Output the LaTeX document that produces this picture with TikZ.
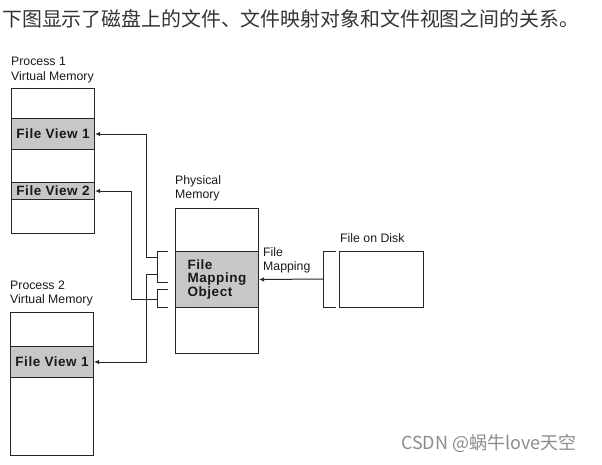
\documentclass[tikz,border=0pt]{standalone}
\usepackage{fontspec}
\setmainfont{Liberation Sans}
\newfontfamily\cjk{Noto Sans CJK SC}
\newfontfamily\bandfont[LetterSpace=4]{Liberation Sans Bold}
\usetikzlibrary{arrows.meta}
\tikzset{
  lbl/.style={inner sep=0pt, anchor=west, font=\fontsize{12.3}{14.5}\selectfont, align=left, text=black!90},
  membox/.style={draw=black!85, line width=1pt, fill=white, anchor=north west, inner sep=0pt},
  band/.style={draw=black!85, line width=1pt, fill=black!22, anchor=north west, inner sep=0pt, font=\bandfont\fontsize{13.5}{14}\selectfont, text=black!90},
  wire/.style={draw=black!85, line width=1pt},
  arr/.style={wire, -{Latex[length=5pt,width=4.5pt]}}
}
\begin{document}
\begin{tikzpicture}[x=1pt,y=-1pt]
\useasboundingbox (0,0) rectangle (602,464);
% title
\node[inner sep=0pt, anchor=west, font=\cjk\fontsize{19.9}{20}\selectfont, text=black!80] (title) at (2,19) {下图显示了磁盘上的文件、文件映射对象和文件视图之间的关系。};
% labels
\node[lbl] (l1) at (11,70) {Process 1\\Virtual Memory};
\node[lbl] (l2) at (10,293.5) {Process 2\\Virtual Memory};
\node[lbl] (l3) at (175,188.5) {Physical\\Memory};
\node[lbl] (l4) at (263,260.5) {File\\Mapping};
\node[lbl] (l5) at (340,238) {File on Disk};
% process 1
\node[membox, minimum width=83pt, minimum height=145pt] (p1) at (11,88) {};
\node[band, minimum width=83pt, minimum height=31pt] (fv1) at (11,118) {File View 1};
\node[band, minimum width=83pt, minimum height=17pt] (fv2) at (11,182) {File View 2};
% process 2
\node[membox, minimum width=83pt, minimum height=143pt] (p2) at (10,312) {};
\node[band, minimum width=83pt, minimum height=31pt] (pfv) at (10,346) {File View 1};
% physical memory
\node[membox, minimum width=83pt, minimum height=145pt] (pm) at (175,208) {};
\node[band, minimum width=83pt, minimum height=56pt, align=left, font=\bandfont\fontsize{13.5}{13.5}\selectfont] (fmo) at (175,251) {File\\Mapping\\Object};
% disk
\node[membox, minimum width=84pt, minimum height=56pt] (disk) at (339,251) {};
% bracket coordinates
\coordinate (b1t) at (168,251); \coordinate (b1tc) at (157,251);
\coordinate (b1b) at (168,282); \coordinate (b1bc) at (157,282);
\coordinate (b2t) at (168,289); \coordinate (b2tc) at (157,289);
\coordinate (b2b) at (168,307); \coordinate (b2bc) at (157,307);
\coordinate (d1) at (336,251); \coordinate (d1c) at (323,251);
\coordinate (d2) at (336,307); \coordinate (d2c) at (323,307);
\coordinate (dm) at (323,279);
\coordinate (j1) at (157,257); \coordinate (j1a) at (146,257);
\coordinate (j2) at (157,274); \coordinate (j2a) at (146,274);
\coordinate (j3) at (157,299); \coordinate (j3a) at (131,299);
% brackets
\draw[wire] (b1t) -- (b1tc) -- (b1bc) -- (b1b);
\draw[wire] (b2t) -- (b2tc) -- (b2bc) -- (b2b);
\draw[wire] (d1) -- (d1c) -- (d2c) -- (d2);
% connectors
\draw[arr] (j1) -- (j1a) |- (fv1.east);
\draw[arr] (j3) -- (j3a) |- (fv2.east);
\draw[arr] (j2) -- (j2a) |- (pfv.east);
\draw[arr] (dm) -- (fmo.east);
% watermark
\node[inner sep=0pt, anchor=west, font=\cjk\fontsize{18}{18}\selectfont, text=black!45] (wm) at (401,443) {CSDN @蜗牛love天空};
\end{tikzpicture}
\end{document}
